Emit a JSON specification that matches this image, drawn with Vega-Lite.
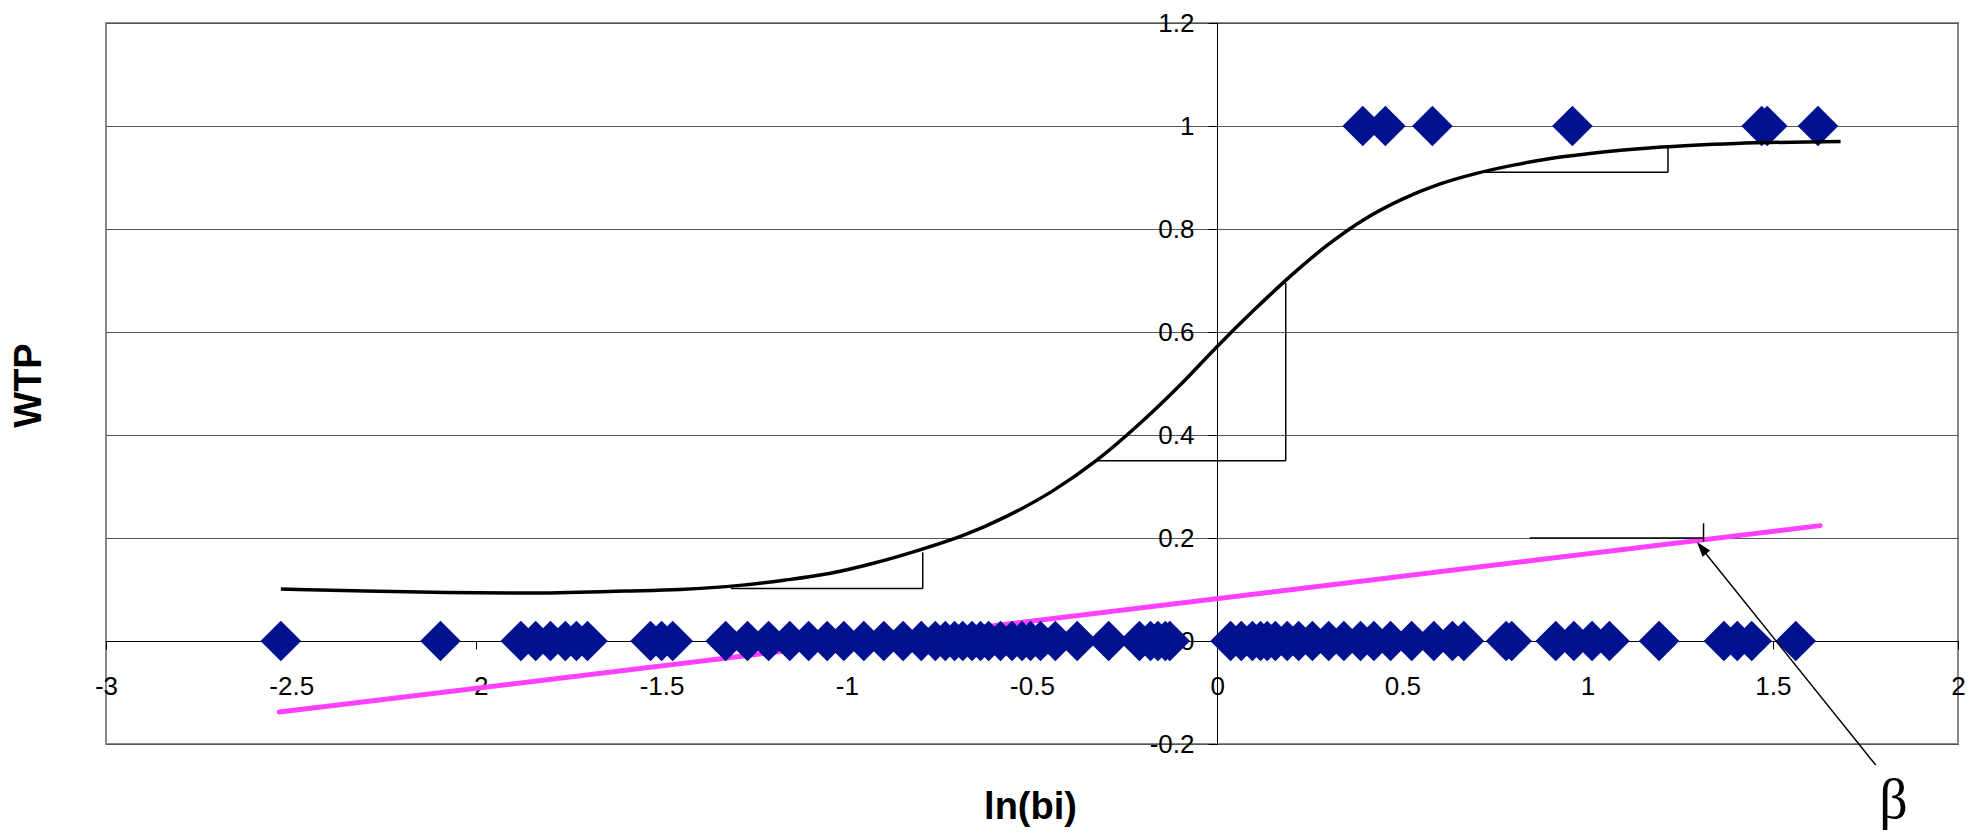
{
  "$schema": "https://vega.github.io/schema/vega-lite/v6.json",
  "width": 1852,
  "height": 721,
  "autosize": {"type": "none"},
  "padding": {"left": 106, "top": 23, "right": 21, "bottom": 92},
  "background": "white",
  "config": {
    "view": {"stroke": "#888888", "strokeWidth": 2},
    "axis": {
      "labelFont": "Liberation Sans",
      "labelFontSize": 26,
      "labelColor": "#000000",
      "titleFont": "Liberation Sans",
      "titleFontSize": 38,
      "titleFontWeight": "bold",
      "titleColor": "#000000",
      "domainColor": "#000000",
      "domainWidth": 1,
      "tickColor": "#000000",
      "tickWidth": 1
    }
  },
  "datasets": {
    "obs": [
      {"lnbi": -2.528, "wtp": 0}, {"lnbi": -2.097, "wtp": 0},
      {"lnbi": -1.88, "wtp": 0}, {"lnbi": -1.84, "wtp": 0}, {"lnbi": -1.80, "wtp": 0}, {"lnbi": -1.76, "wtp": 0}, {"lnbi": -1.73, "wtp": 0}, {"lnbi": -1.70, "wtp": 0},
      {"lnbi": -1.53, "wtp": 0}, {"lnbi": -1.50, "wtp": 0}, {"lnbi": -1.47, "wtp": 0},
      {"lnbi": -1.327, "wtp": 0}, {"lnbi": -1.268, "wtp": 0}, {"lnbi": -1.211, "wtp": 0}, {"lnbi": -1.154, "wtp": 0}, {"lnbi": -1.103, "wtp": 0}, {"lnbi": -1.053, "wtp": 0},
      {"lnbi": -1.008, "wtp": 0}, {"lnbi": -0.954, "wtp": 0}, {"lnbi": -0.900, "wtp": 0}, {"lnbi": -0.848, "wtp": 0}, {"lnbi": -0.799, "wtp": 0}, {"lnbi": -0.761, "wtp": 0},
      {"lnbi": -0.734, "wtp": 0}, {"lnbi": -0.709, "wtp": 0}, {"lnbi": -0.687, "wtp": 0}, {"lnbi": -0.662, "wtp": 0}, {"lnbi": -0.639, "wtp": 0}, {"lnbi": -0.617, "wtp": 0},
      {"lnbi": -0.585, "wtp": 0}, {"lnbi": -0.554, "wtp": 0}, {"lnbi": -0.527, "wtp": 0}, {"lnbi": -0.504, "wtp": 0}, {"lnbi": -0.477, "wtp": 0}, {"lnbi": -0.437, "wtp": 0},
      {"lnbi": -0.378, "wtp": 0}, {"lnbi": -0.293, "wtp": 0},
      {"lnbi": -0.21, "wtp": 0}, {"lnbi": -0.18, "wtp": 0}, {"lnbi": -0.16, "wtp": 0}, {"lnbi": -0.14, "wtp": 0}, {"lnbi": -0.128, "wtp": 0},
      {"lnbi": 0.036, "wtp": 0}, {"lnbi": 0.065, "wtp": 0}, {"lnbi": 0.095, "wtp": 0}, {"lnbi": 0.117, "wtp": 0}, {"lnbi": 0.135, "wtp": 0}, {"lnbi": 0.157, "wtp": 0},
      {"lnbi": 0.189, "wtp": 0}, {"lnbi": 0.220, "wtp": 0}, {"lnbi": 0.257, "wtp": 0}, {"lnbi": 0.301, "wtp": 0}, {"lnbi": 0.342, "wtp": 0}, {"lnbi": 0.387, "wtp": 0},
      {"lnbi": 0.423, "wtp": 0}, {"lnbi": 0.468, "wtp": 0}, {"lnbi": 0.525, "wtp": 0}, {"lnbi": 0.585, "wtp": 0}, {"lnbi": 0.635, "wtp": 0}, {"lnbi": 0.666, "wtp": 0},
      {"lnbi": 0.780, "wtp": 0}, {"lnbi": 0.795, "wtp": 0},
      {"lnbi": 0.914, "wtp": 0}, {"lnbi": 0.963, "wtp": 0}, {"lnbi": 1.012, "wtp": 0}, {"lnbi": 1.059, "wtp": 0},
      {"lnbi": 1.193, "wtp": 0},
      {"lnbi": 1.368, "wtp": 0}, {"lnbi": 1.404, "wtp": 0}, {"lnbi": 1.443, "wtp": 0},
      {"lnbi": 1.562, "wtp": 0},
      {"lnbi": 0.393, "wtp": 1}, {"lnbi": 0.454, "wtp": 1}, {"lnbi": 0.581, "wtp": 1}, {"lnbi": 0.959, "wtp": 1},
      {"lnbi": 1.470, "wtp": 1}, {"lnbi": 1.485, "wtp": 1}, {"lnbi": 1.622, "wtp": 1}
    ],
    "curve": [
      {"lnbi": -2.528, "p": 0.101}, {"lnbi": -2.3, "p": 0.097}, {"lnbi": -2.08, "p": 0.094}, {"lnbi": -1.863, "p": 0.093},
      {"lnbi": -1.598, "p": 0.097}, {"lnbi": -1.45, "p": 0.100}, {"lnbi": -1.289, "p": 0.108}, {"lnbi": -1.169, "p": 0.118},
      {"lnbi": -1.048, "p": 0.131}, {"lnbi": -0.928, "p": 0.151}, {"lnbi": -0.807, "p": 0.176}, {"lnbi": -0.686, "p": 0.205},
      {"lnbi": -0.566, "p": 0.243}, {"lnbi": -0.445, "p": 0.291}, {"lnbi": -0.325, "p": 0.351}, {"lnbi": -0.2, "p": 0.428},
      {"lnbi": -0.1, "p": 0.497}, {"lnbi": 0.0, "p": 0.572}, {"lnbi": 0.1, "p": 0.643}, {"lnbi": 0.2, "p": 0.710},
      {"lnbi": 0.3, "p": 0.770}, {"lnbi": 0.4, "p": 0.820}, {"lnbi": 0.5, "p": 0.858}, {"lnbi": 0.6, "p": 0.887},
      {"lnbi": 0.7, "p": 0.908}, {"lnbi": 0.8, "p": 0.924}, {"lnbi": 0.9, "p": 0.937}, {"lnbi": 1.0, "p": 0.946},
      {"lnbi": 1.2, "p": 0.959}, {"lnbi": 1.4, "p": 0.966}, {"lnbi": 1.683, "p": 0.970}
    ],
    "linear": [
      {"lnbi": -2.532, "p": -0.138}, {"lnbi": 1.628, "p": 0.224}
    ],
    "notes": [
      {"x": -1.313, "y": 0.102, "x2": -0.795, "y2": 0.102},
      {"x": -0.795, "y": 0.102, "x2": -0.795, "y2": 0.172},
      {"x": -0.325, "y": 0.350, "x2": 0.185, "y2": 0.350},
      {"x": 0.185, "y": 0.350, "x2": 0.185, "y2": 0.695},
      {"x": 0.714, "y": 0.910, "x2": 1.217, "y2": 0.910},
      {"x": 1.217, "y": 0.910, "x2": 1.217, "y2": 0.962},
      {"x": 0.844, "y": 0.200, "x2": 1.311, "y2": 0.200},
      {"x": 1.313, "y": 0.193, "x2": 1.313, "y2": 0.2285},
      {"x": 1.778, "y": -0.241, "x2": 1.300, "y2": 0.187}
    ],
    "arrowhead": [{"x": 1.308, "y": 0.181}],
    "label": [{"x": 1.826, "y": -0.31, "t": "β"}]
  },
  "layer": [
    {
      "data": {"name": "linear"},
      "mark": {"type": "line", "color": "#FF40FF", "strokeWidth": 5, "strokeCap": "round"},
      "encoding": {
        "x": {
          "field": "lnbi", "type": "quantitative",
          "scale": {"domain": [-3, 2], "nice": false, "zero": false},
          "axis": {
            "title": "ln(bi)",
            "values": [-3, -2.5, -2, -1.5, -1, -0.5, 0, 0.5, 1, 1.5, 2],
            "labelExpr": "toString(datum.value)",
            "offset": -103,
            "grid": false,
            "tickSize": 8,
            "labelPadding": 24,
            "labelFlush": false,
            "labelOverlap": false,
            "titleX": 924,
            "titleY": 166,
            "titleAlign": "center",
            "titleBaseline": "middle"
          }
        },
        "y": {
          "field": "p", "type": "quantitative",
          "scale": {"domain": [-0.2, 1.2], "nice": false, "zero": false},
          "axis": {
            "title": "WTP",
            "values": [-0.2, 0, 0.2, 0.4, 0.6, 0.8, 1, 1.2],
            "labelExpr": "toString(datum.value)",
            "offset": -1111,
            "grid": true,
            "gridColor": "#555555",
            "gridWidth": 1,
            "tickSize": 9,
            "labelPadding": 14,
            "labelFlush": false,
            "labelOverlap": false,
            "titleX": -1188,
            "titleY": 362,
            "titleAngle": -90,
            "titleAlign": "center",
            "titleBaseline": "middle"
          }
        }
      }
    },
    {
      "data": {"name": "obs"},
      "mark": {"type": "point", "shape": "diamond", "filled": true, "size": 1650, "color": "#001290", "opacity": 1},
      "encoding": {
        "x": {"field": "lnbi", "type": "quantitative"},
        "y": {"field": "wtp", "type": "quantitative"}
      }
    },
    {
      "data": {"name": "curve"},
      "mark": {"type": "line", "color": "#000000", "strokeWidth": 3.5, "interpolate": "monotone"},
      "encoding": {
        "x": {"field": "lnbi", "type": "quantitative"},
        "y": {"field": "p", "type": "quantitative"}
      }
    },
    {
      "data": {"name": "notes"},
      "mark": {"type": "rule", "color": "#000000", "strokeWidth": 1.5},
      "encoding": {
        "x": {"field": "x", "type": "quantitative"},
        "y": {"field": "y", "type": "quantitative"},
        "x2": {"field": "x2"},
        "y2": {"field": "y2"}
      }
    },
    {
      "data": {"name": "arrowhead"},
      "mark": {"type": "point", "shape": "M0,-1L0.65,1L-0.65,1Z", "filled": true, "size": 225, "color": "#000000", "opacity": 1, "angle": -38.7},
      "encoding": {
        "x": {"field": "x", "type": "quantitative"},
        "y": {"field": "y", "type": "quantitative"}
      }
    },
    {
      "data": {"name": "label"},
      "mark": {"type": "text", "font": "Liberation Serif", "fontSize": 56, "color": "#000000", "align": "center", "baseline": "middle"},
      "encoding": {
        "x": {"field": "x", "type": "quantitative"},
        "y": {"field": "y", "type": "quantitative"},
        "text": {"field": "t"}
      }
    }
  ]
}
